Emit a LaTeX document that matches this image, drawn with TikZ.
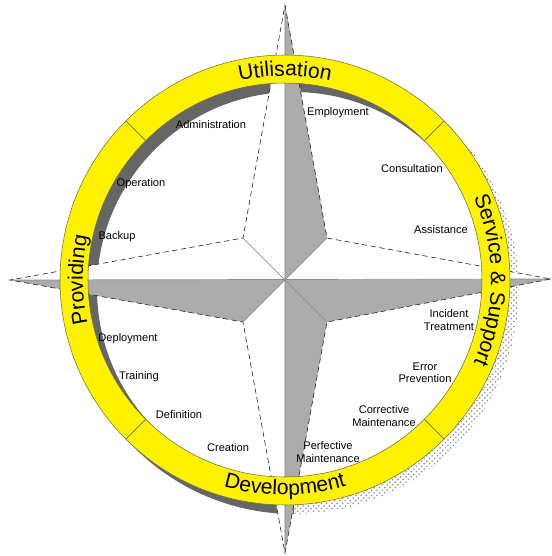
\documentclass[tikz,border=0pt]{standalone}
\usepackage{fontspec}
\setmainfont{Liberation Sans}
\usepackage{tikz}
\usetikzlibrary{decorations.text, patterns, positioning}
\newcommand{\ringfont}{\fontsize{12}{14}\selectfont}
\tikzset{
    itemtext/.style={font=\fontsize{6.3}{7}\selectfont, align=center, inner sep=0pt},
    ringtext/.style={decorate, decoration={text along path, text align=center, text={|\ringfont|#1}}}
}

\begin{document}
\begin{tikzpicture}[x=0.02cm, y=0.02cm,
    halfgrey/.style={fill=black!33},
    starline/.style={draw=black!85, line width=0.35pt, densely dashed},
    midline/.style={draw=black!45, line width=0.4pt},
    shadowsolid/.style={fill=black!60},
    shadowdots/.style={pattern=crosshatch dots, pattern color=black!45},
    ring/.style={fill=yellow},
    ringedge/.style={draw=yellow!35!black, line width=0.3pt},
    divider/.style={draw=yellow!45!black, line width=0.5pt}]

    \useasboundingbox (-285,-276) rectangle (267,280);

    % Compass points
    \coordinate (c) at (0,0);
    \coordinate (n) at (0,275);
    \coordinate (e) at (266,1);
    \coordinate (s) at (0,-273);
    \coordinate (w) at (-275,0);
    \coordinate (ne) at (42,42);
    \coordinate (se) at (42,-42);
    \coordinate (sw) at (-42,-42);
    \coordinate (nw) at (-42,42);

    % Shadow of the ring
    \fill[shadowsolid] ([shift={(9,-9)}]45:225) arc[start angle=45, end angle=270, radius=225]
        -- ([shift={(9,-9)}]270:197) arc[start angle=270, end angle=45, radius=197] -- cycle;
    \fill[shadowdots] ([shift={(9,-9)}]-90:225) arc[start angle=-90, end angle=45, radius=225]
        -- ([shift={(9,-9)}]45:197) arc[start angle=45, end angle=-90, radius=197] -- cycle;

    % Star
    \fill[white] (n) -- (ne) -- (e) -- (se) -- (s) -- (sw) -- (w) -- (nw) -- cycle;
    \fill[halfgrey] (c) -- (n) -- (ne) -- cycle;
    \fill[halfgrey] (c) -- (e) -- (se) -- cycle;
    \fill[halfgrey] (c) -- (se) -- (s) -- cycle;
    \fill[halfgrey] (c) -- (w) -- (sw) -- cycle;
    \draw[midline] (n) -- (s) (w) -- (e) (nw) -- (se) (ne) -- (sw);
    \draw[starline] (n) -- (ne) -- (e) -- (se) -- (s) -- (sw) -- (w) -- (nw) -- cycle;

    % Ring
    \fill[ring, even odd rule] (c) circle[radius=225] (c) circle[radius=197];
    \draw[ringedge] (c) circle[radius=225] (c) circle[radius=197];
    \draw[divider] (45:197) -- (45:225);
    \draw[divider] (135:197) -- (135:225);
    \draw[divider] (225:197) -- (225:225);
    \draw[divider] (315:197) -- (315:225);

    % Ring titles
    \path[ringtext=Utilisation] (135:204) arc[start angle=135, end angle=45, radius=204];
    \path[ringtext={Service {\&} Support}] (60:206) arc[start angle=60, end angle=-60, radius=206];
    \path[ringtext=Development] (225:215) arc[start angle=225, end angle=315, radius=215];
    \path[ringtext=Providing] (240:202) arc[start angle=240, end angle=120, radius=202];

    % Utilisation
    \node[itemtext] (employment) at (53,167) {Employment};
    \node[itemtext] (administration) at (-74,155) {Administration};
    % Providing
    \node[itemtext] (operation) at (-144,96) {Operation};
    \node[itemtext] (backup) at (-168,43) {Backup};
    \node[itemtext] (deployment) at (-157,-59) {Deployment};
    \node[itemtext] (training) at (-146,-97) {Training};
    % Development
    \node[itemtext] (definition) at (-106,-135) {Definition};
    \node[itemtext] (creation) at (-57,-168) {Creation};
    \node[itemtext] (perfective) at (43,-172) {Perfective\\Maintenance};
    % Service & Support
    \node[itemtext] (corrective) at (99,-136) {Corrective\\Maintenance};
    \node[itemtext] (error) at (140,-93) {Error\\Prevention};
    \node[itemtext] (incident) at (164,-40) {Incident\\Treatment};
    \node[itemtext] (assistance) at (156,50) {Assistance};
    \node[itemtext] (consultation) at (127,111) {Consultation};
\end{tikzpicture}
\end{document}
